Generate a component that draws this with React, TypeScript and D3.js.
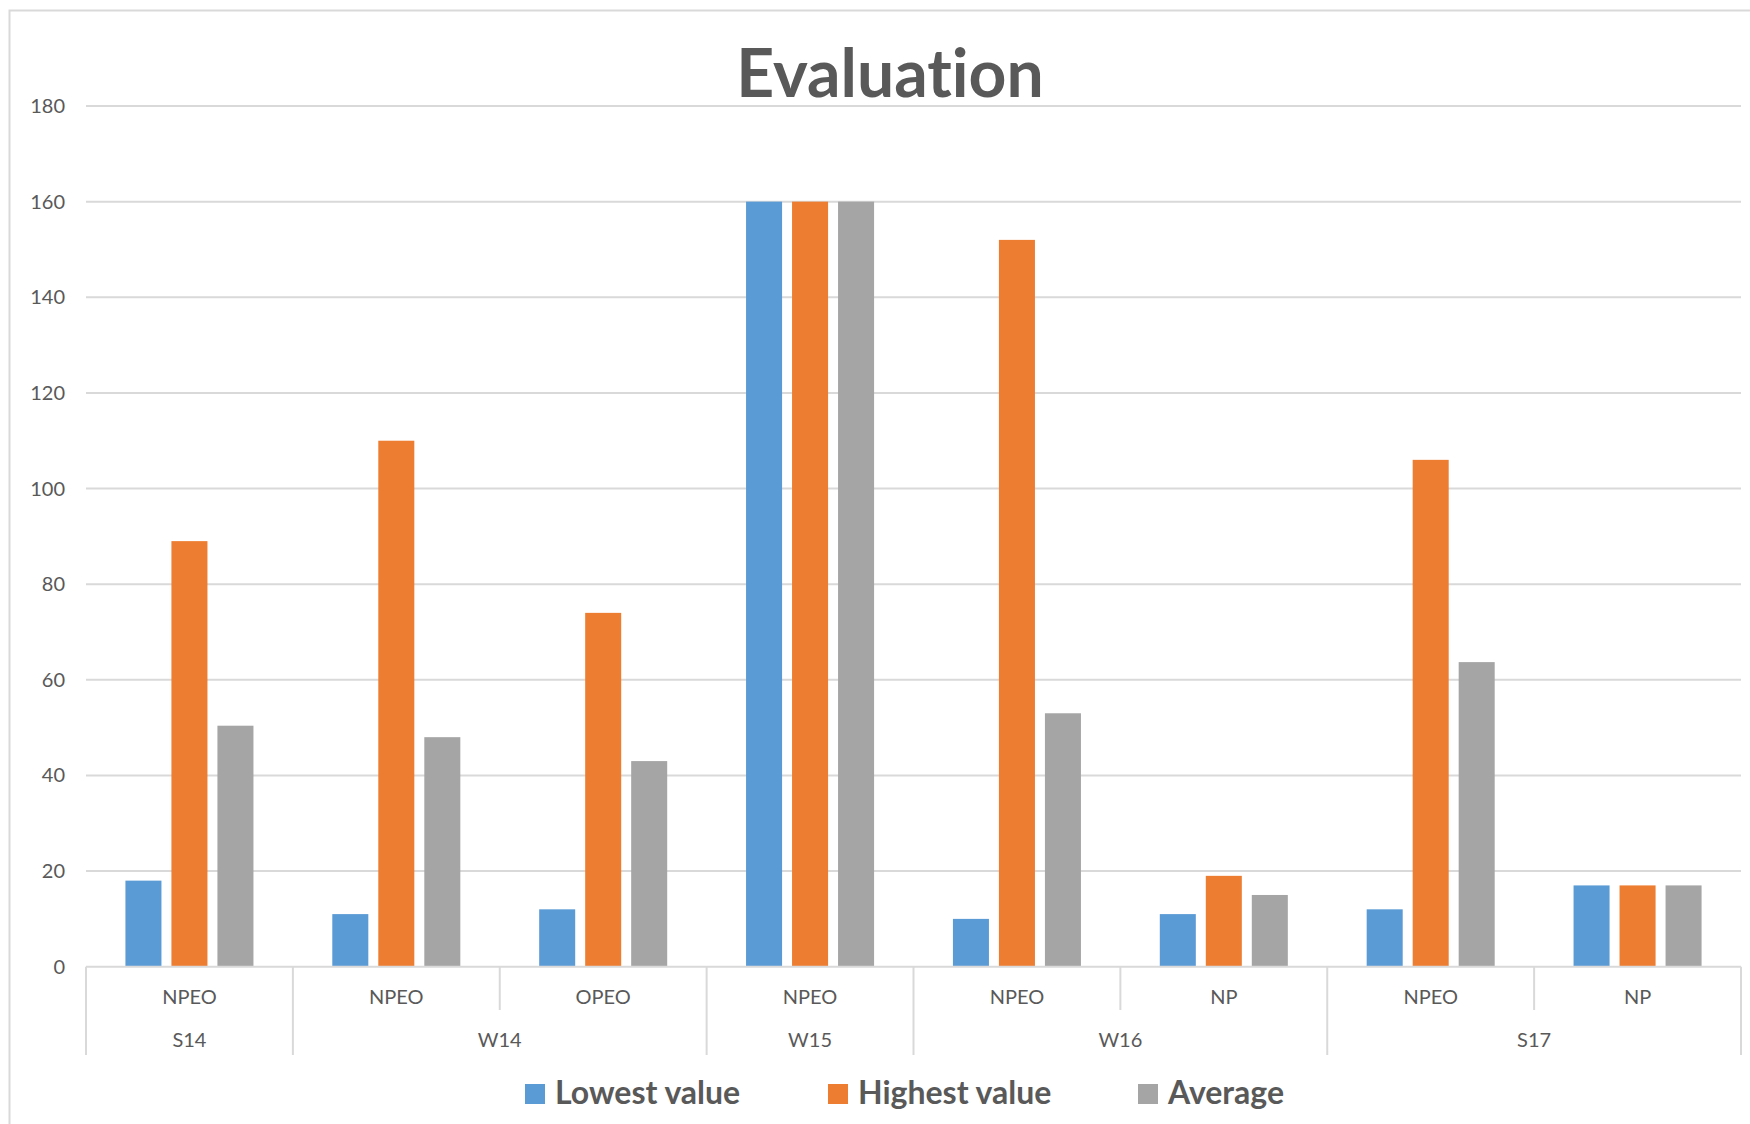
import { FunctionComponent, useRef, useEffect } from "react";
import * as d3 from "d3";

// sampling campaigns and the compound measured in each
const groups = ["S14", "W14", "W14", "W15", "W16", "W16", "S17", "S17"];
const compounds = ["NPEO", "NPEO", "OPEO", "NPEO", "NPEO", "NP", "NPEO", "NP"];

const lowest = [18, 11, 12, 160, 10, 11, 12, 17];
const highest = [89, 110, 74, 160, 152, 19, 106, 17];
const average = [50.4, 48, 43, 160, 53, 15, 63.7, 17];

const seriesNames = ["Lowest value", "Highest value", "Average"];
const seriesColors = ["#5B9BD5", "#ED7D31", "#A5A5A5"];
const yTicks = [0, 20, 40, 60, 80, 100, 120, 140, 160, 180];

const WIDTH = 1750;
const HEIGHT = 1124;
const FONT = "Lato, 'Open Sans', sans-serif";
const TEXT = "#595959";
const GRID = "#d9d9d9";

const App: FunctionComponent = () => {
    const container = useRef<SVGSVGElement>(null);

    useEffect(() => {
        document.body.style.margin = "0";
        draw();
    }, []);

    function draw() {
        if (!container.current) return;
        const svg = d3.select(container.current);
        svg.selectAll("*").remove();

        const left = 86, right = 1741, top = 106, bottom = 966.7;
        const idx = d3.range(groups.length);
        const series = [lowest, highest, average];

        const x0 = d3.scaleBand<number>().domain(idx).range([left, right]);
        const x1 = d3.scaleBand<number>()
            .domain([0, 1, 2])
            .range([0, x0.bandwidth()])
            .paddingInner(0.217)
            .paddingOuter(0.857);
        const y = d3.scaleLinear().domain([0, 180]).range([bottom, top]);

        // chart area border (left + top)
        svg.append("path")
            .attr("d", `M9.5,${HEIGHT} V10.5 H${WIDTH}`)
            .attr("fill", "none")
            .attr("stroke", GRID)
            .attr("stroke-width", 2);

        // gridlines
        svg.append("g")
            .selectAll("line")
            .data(yTicks.filter(t => t > 0))
            .join("line")
            .attr("x1", left)
            .attr("x2", right)
            .attr("y1", d => y(d))
            .attr("y2", d => y(d))
            .attr("stroke", GRID)
            .attr("stroke-width", 2);

        // y tick labels
        svg.append("g")
            .selectAll("text")
            .data(yTicks)
            .join("text")
            .attr("x", 65)
            .attr("y", d => y(d))
            .attr("dy", "0.35em")
            .attr("text-anchor", "end")
            .attr("font-family", FONT)
            .attr("font-size", 20)
            .attr("fill", TEXT)
            .text(d => d);

        // bars
        const bars = svg.append("g");
        series.forEach((vals, s) => {
            bars.append("g")
                .selectAll("rect")
                .data(idx)
                .join("rect")
                .attr("x", i => (x0(i) ?? 0) + (x1(s) ?? 0))
                .attr("width", x1.bandwidth())
                .attr("y", i => y(vals[i]))
                .attr("height", i => y(0) - y(vals[i]))
                .attr("fill", seriesColors[s]);
        });

        // x axis line
        svg.append("line")
            .attr("x1", left)
            .attr("x2", right)
            .attr("y1", bottom)
            .attr("y2", bottom)
            .attr("stroke", GRID)
            .attr("stroke-width", 2);

        // separators: tall at group boundaries, short inside a group
        const edges = d3.range(groups.length + 1);
        svg.append("g")
            .selectAll("line")
            .data(edges)
            .join("line")
            .attr("x1", i => left + i * x0.step())
            .attr("x2", i => left + i * x0.step())
            .attr("y1", bottom)
            .attr("y2", i => (i === 0 || i === groups.length || groups[i] !== groups[i - 1]) ? 1055 : 1010)
            .attr("stroke", GRID)
            .attr("stroke-width", 2);

        // compound labels
        svg.append("g")
            .selectAll("text")
            .data(idx)
            .join("text")
            .attr("x", i => (x0(i) ?? 0) + x0.bandwidth() / 2)
            .attr("y", 1004)
            .attr("text-anchor", "middle")
            .attr("font-family", FONT)
            .attr("font-size", 20)
            .attr("fill", TEXT)
            .text(i => compounds[i]);

        // campaign labels, centred over their run of columns
        const runs = Array.from(d3.group(idx, i => groups[i]), ([name, members]) => ({ name, members }));
        svg.append("g")
            .selectAll("text")
            .data(runs)
            .join("text")
            .attr("x", d => ((x0(d.members[0]) ?? 0) + (x0(d.members[d.members.length - 1]) ?? 0) + x0.bandwidth()) / 2)
            .attr("y", 1047)
            .attr("text-anchor", "middle")
            .attr("font-family", FONT)
            .attr("font-size", 20)
            .attr("fill", TEXT)
            .text(d => d.name);

        // title
        svg.append("text")
            .attr("x", 890)
            .attr("y", 97)
            .attr("text-anchor", "middle")
            .attr("font-family", FONT)
            .attr("font-weight", "bold")
            .attr("font-size", 66)
            .style("font-variant-ligatures", "none")
            .attr("fill", TEXT)
            .text("Evaluation");

        // legend
        const legendX = [525, 828, 1138];
        const legend = svg.append("g")
            .selectAll("g")
            .data(seriesNames)
            .join("g")
            .attr("transform", (d, i) => `translate(${legendX[i]},1084)`);
        legend.append("rect")
            .attr("width", 20)
            .attr("height", 20)
            .attr("fill", (d, i) => seriesColors[i]);
        legend.append("text")
            .attr("x", 30)
            .attr("y", 20)
            .attr("font-family", FONT)
            .attr("font-weight", "bold")
            .attr("font-size", 32)
            .attr("fill", TEXT)
            .text(d => d);
    }

    return (
        <svg width={WIDTH} height={HEIGHT} ref={container} style={{ display: "block", background: "#fff" }} />
    );
};

export default App;
